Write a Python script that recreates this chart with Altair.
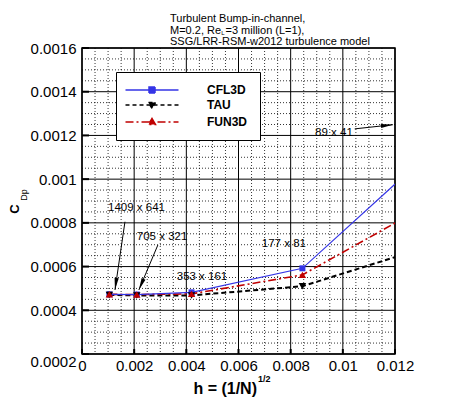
import altair as alt
import pandas as pd

# h = (1/N)^1/2 for the five grids; the coarsest (89 x 41) lies off the right edge
h = [0.00105, 0.0021, 0.0042, 0.00845, 0.0169]

cfl3d = [0.000473, 0.000472, 0.000482, 0.000592, 0.001509]
tau = [0.000470, 0.000468, 0.000468, 0.000510, 0.000827]
fun3d = [0.000473, 0.000472, 0.000475, 0.000562, 0.001126]

codes = ["CFL3D", "TAU", "FUN3D"]
colors = ["#3535e6", "#000000", "#c00000"]

# grid-size annotations
ann_text = ["1409 x 641", "705 x 321", "353 x 161", "177 x 81", "89 x 41"]
ann_x = [0.00209, 0.00307, 0.0046, 0.00774, 0.00966]
ann_y = [0.000869, 0.000736, 0.000553, 0.000704, 0.001212]

arrow_x = [0.001647, 0.00291, 0.010456]
arrow_y = [0.000805, 0.000699, 0.00123]
arrow_x2 = [0.001264, 0.00218, 0.01192]
arrow_y2 = [0.000493, 0.000493, 0.001249]
arrow_angle = [188, 203, 84]

x_major = [0, 0.002, 0.004, 0.006, 0.008, 0.01, 0.012]
y_major = [0.0002, 0.0004, 0.0006, 0.0008, 0.001, 0.0012, 0.0014, 0.0016]
x_minor = [i * 0.0005 for i in range(25) if i % 4]
y_minor = [0.0002 + i * 0.00005 for i in range(29) if i % 4]

title_lines = ["Turbulent Bump-in-channel,",
               "M=0.2, Re", "=3 million (L=1),",
               "SSG/LRR-RSM-w2012 turbulence model"]

FONT = "Liberation Sans"
W, H = 313, 306

rows = []
for name, vals in zip(codes, [cfl3d, tau, fun3d]):
    for hh, v in zip(h, vals):
        rows.append({"h": hh, "cdp": v, "code": name})
df = pd.DataFrame(rows)

xs = alt.Scale(domain=[0, 0.012], nice=False, zero=False)
ys = alt.Scale(domain=[0.0002, 0.0016], nice=False, zero=False)

x_axis = alt.Axis(values=x_major, format="~g", grid=False, ticks=False, domain=False,
                  labelFont=FONT, labelFontSize=15, labelColor="black",
                  labelPadding=4, labelFlush=False, labelOverlap=False, title=None)
y_axis = alt.Axis(values=y_major, format="~g", grid=False, ticks=False, domain=False,
                  labelFont=FONT, labelFontSize=15, labelColor="black",
                  labelPadding=6, labelFlush=False, labelOverlap=False, title=None,
                  labelBaseline=alt.condition("datum.value < 0.00025",
                                              alt.value("top"), alt.value("middle")))


def X(f):
    return alt.X(f, type="quantitative", scale=xs, axis=x_axis)


def Y(f):
    return alt.Y(f, type="quantitative", scale=ys, axis=y_axis)


def text(t, x, y, size, weight="normal", align="left", baseline="alphabetic", angle=0):
    return alt.Chart(pd.DataFrame({"t": [t]})).mark_text(
        font=FONT, fontSize=size, fontWeight=weight, align=align,
        baseline=baseline, angle=angle, color="black"
    ).encode(text="t:N", x=alt.value(x), y=alt.value(y))


layers = []

# grid: dotted minor lines, solid major lines
layers.append(alt.Chart(pd.DataFrame({"v": x_minor})).mark_rule(
    color="black", strokeWidth=0.8, strokeDash=[1, 2]).encode(x=X("v")))
layers.append(alt.Chart(pd.DataFrame({"v": y_minor})).mark_rule(
    color="black", strokeWidth=0.8, strokeDash=[1, 2]).encode(y=Y("v")))
layers.append(alt.Chart(pd.DataFrame({"v": x_major})).mark_rule(
    color="black", strokeWidth=1).encode(x=X("v")))
layers.append(alt.Chart(pd.DataFrame({"v": y_major})).mark_rule(
    color="black", strokeWidth=1).encode(y=Y("v")))

# inward major ticks
layers.append(alt.Chart(pd.DataFrame({"v": y_major})).mark_rule(
    color="black", strokeWidth=2).encode(y=Y("v"), x=alt.value(0), x2=alt.value(7)))
layers.append(alt.Chart(pd.DataFrame({"v": x_major})).mark_rule(
    color="black", strokeWidth=2).encode(x=X("v"), y=alt.value(H), y2=alt.value(H - 5)))

# series lines
line_style = {
    "CFL3D": dict(strokeWidth=1.2),
    "TAU": dict(strokeWidth=2, strokeDash=[5, 3]),
    "FUN3D": dict(strokeWidth=1.6, strokeDash=[8, 3, 2, 3]),
}
for name in ["TAU", "FUN3D", "CFL3D"]:
    c = colors[codes.index(name)]
    layers.append(alt.Chart(df).transform_filter(alt.datum.code == name).mark_line(
        clip=True, color=c, **line_style[name]).encode(x=X("h"), y=Y("cdp")))

marker = {"CFL3D": ("square", 36), "TAU": ("triangle-down", 55), "FUN3D": ("triangle-up", 55)}
for name in codes:
    c = colors[codes.index(name)]
    shp, sz = marker[name]
    layers.append(alt.Chart(df).transform_filter(alt.datum.code == name).mark_point(
        clip=True, filled=True, opacity=1, color=c, shape=shp, size=sz
    ).encode(x=X("h"), y=Y("cdp")))

# legend: symbols drawn as a line segment with the marker in the middle
leg_paths = [
    "M-5.3,0H5.3M-0.6,-0.6H0.6V0.6H-0.6Z",
    "M-5.3,0H5.3M-0.7,-0.5H0.7L0,0.7Z",
    "M-5.3,0H5.3M0,-0.7L0.7,0.5H-0.7Z",
]
leg_dash = [[1, 0], [4, 3], [8, 3, 2, 3]]
leg = alt.Legend(orient="none", legendX=34, legendY=24, title=None,
                 fillColor="white", strokeColor="black", padding=12,
                 rowPadding=3, symbolOffset=18, labelOffset=49,
                 labelFont=FONT, labelFontSize=12, labelFontWeight="bold",
                 labelColor="black", symbolStrokeWidth=1.5, symbolOpacity=1)
layers.append(alt.Chart(df).transform_filter("false").mark_point(
    filled=True, size=100, strokeWidth=1.5, opacity=1
).encode(
    fill=alt.Fill("code:N", scale=alt.Scale(domain=codes, range=colors), legend=leg),
    stroke=alt.Stroke("code:N", scale=alt.Scale(domain=codes, range=colors), legend=leg),
    strokeDash=alt.StrokeDash("code:N", scale=alt.Scale(domain=codes, range=leg_dash), legend=leg),
    shape=alt.Shape("code:N", scale=alt.Scale(domain=codes, range=leg_paths), legend=leg),
))

# annotations
ann = pd.DataFrame({"t": ann_text, "x": ann_x, "y": ann_y})
layers.append(alt.Chart(ann).mark_text(
    font=FONT, fontSize=11.5, color="black", align="center", baseline="middle"
).encode(x=X("x"), y=Y("y"), text="t:N"))

arr = pd.DataFrame({"x": arrow_x, "y": arrow_y, "x2": arrow_x2, "y2": arrow_y2,
                    "a": arrow_angle})
layers.append(alt.Chart(arr).mark_rule(color="black", strokeWidth=1).encode(
    x=X("x"), y=Y("y"), x2="x2", y2="y2"))
layers.append(alt.Chart(arr).mark_point(
    shape="M0,0L0.35,2L-0.35,2Z", filled=True, color="black", size=144, opacity=1
).encode(x=X("x2"), y=Y("y2"), angle=alt.Angle("a:Q", scale=None)))

# titles
layers.append(text(title_lines[0], 88, -26, 11))
layers.append(text(title_lines[1], 88, -14.5, 11))
layers.append(text("L", 139.3, -13, 6))
layers.append(text(title_lines[2], 143.5, -14.5, 11))
layers.append(text(title_lines[3], 88, -3.5, 11))

layers.append(text("C", -67, 161, 13, "bold", "center", "middle", 270))
layers.append(text("Dp", -58, 147, 9, "normal", "center", "middle", 270))
layers.append(text("h = (1/N)", 175, 346, 16, "bold", "right"))
layers.append(text("1/2", 176, 334, 9, "bold", "left"))

chart = alt.layer(*layers).properties(
    width=W, height=H,
    padding={"left": 74, "top": 40, "right": 40, "bottom": 46},
    autosize=alt.AutoSizeParams(type="none"),
    background="white",
).configure_view(stroke="black", strokeWidth=1.5).configure_legend(strokeWidth=1)

chart.save("out.html", embed_options={"renderer": "svg", "actions": False})
